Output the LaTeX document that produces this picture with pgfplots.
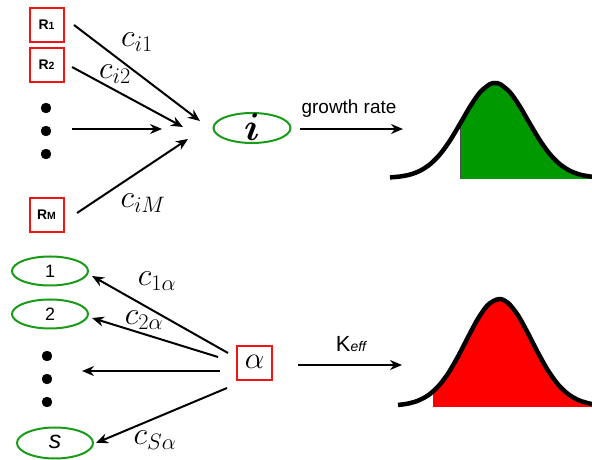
\RequirePackage{fix-cm}
\documentclass[border=0pt]{standalone}
\usepackage{bm}
\usepackage[no-math]{fontspec}
\setmainfont{Liberation Sans}
\usepackage{pgfplots}
\pgfplotsset{compat=1.18}
\usetikzlibrary{arrows.meta,shapes.geometric}
\definecolor{boxred}{RGB}{240,20,20}
\definecolor{ellgreen}{RGB}{25,155,25}
\definecolor{gaussgreen}{RGB}{0,153,0}
\definecolor{gaussred}{RGB}{255,0,0}
\tikzset{
arr/.style={black, line width=2bp, -{Stealth[length=12bp,width=10bp]}},
rbox/.style={draw=boxred, line width=2bp, minimum width=34bp, minimum height=34bp, inner sep=0pt},
gell/.style={draw=ellgreen, line width=2bp, ellipse, inner sep=0pt},
}

\begin{document}
\begin{tikzpicture}
\begin{axis}[
width=592bp, height=460bp, scale only axis,
xmin=0, xmax=592, ymin=0, ymax=460, y dir=reverse,
hide axis, clip=false,
]
% ---- top: resources -> species i
\node[rbox] at (axis cs:46.5,25) {\fontsize{14}{14}\selectfont\bfseries R\fontsize{10.5}{10.5}\selectfont 1};
\node[rbox] at (axis cs:46.5,65) {\fontsize{14}{14}\selectfont\bfseries R\fontsize{10.5}{10.5}\selectfont 2};
\node[rbox] at (axis cs:46.5,215) {\fontsize{14}{14}\selectfont\bfseries R\fontsize{10.5}{10.5}\selectfont M};
\addplot[only marks, mark=*, mark size=5, black] coordinates {(46,108) (46,131) (46,154)};

\addplot[arr] coordinates {(74,25) (200,121)};
\addplot[arr] coordinates {(72,67) (183,127)};
\addplot[arr] coordinates {(72,129) (162,129)};
\addplot[arr] coordinates {(77,213) (188,139)};

\node at (axis cs:137,42) {\fontsize{32}{32}\selectfont $c_{i1}$};
\node at (axis cs:115,74) {\fontsize{32}{32}\selectfont $c_{i2}$};
\node at (axis cs:143,203) {\fontsize{32}{32}\selectfont $c_{iM}$};

\node[gell, minimum width=77bp, minimum height=30bp] at (axis cs:252,128) {};
\node at (axis cs:252,127) {\fontsize{39}{39}\selectfont $\bm{i}$};

\addplot[arr] coordinates {(300,129) (403,129)};
\node at (axis cs:349,109) {\fontsize{19}{19}\selectfont growth rate};

% green distribution (fill from x=460)
\addplot[fill=gaussgreen, draw=none] coordinates {
(460,179) (460,123.9) (470,106.7) (480,92.3) (490,84.1) (495,83) (500,84.1)
(510,92.3) (520,106.7) (530,123.9) (540,140.5) (550,154.3) (560,164.3)
(570,170.8) (580,174.6) (590,176.5) (592,176.7) (592,179) (460,179)};
\addplot[black!70, line width=0.6bp] coordinates {(460,179) (460,124)};
\addplot[black, line width=4.5bp, line join=round, smooth] coordinates {
(390,177.4) (400,176.5) (410,174.6) (420,170.8) (430,164.3) (440,154.3)
(450,140.5) (460,123.9) (470,106.7) (480,92.3) (490,84.1) (495,83) (500,84.1)
(510,92.3) (520,106.7) (530,123.9) (540,140.5) (550,154.3) (560,164.3)
(570,170.8) (580,174.6) (590,176.5) (592,176.7)};

% ---- bottom: consumer alpha -> species
\node[gell, minimum width=76bp, minimum height=29bp] at (axis cs:50,271) {};
\node at (axis cs:50,271) {\fontsize{18}{18}\selectfont 1};
\node[gell, minimum width=76bp, minimum height=29bp] at (axis cs:50,314) {};
\node at (axis cs:50,314) {\fontsize{18}{18}\selectfont 2};
\node[gell, minimum width=76bp, minimum height=31bp] at (axis cs:55,443) {};
\node at (axis cs:55,442) {\fontsize{25}{25}\selectfont\itshape s};
\addplot[only marks, mark=*, mark size=5, black] coordinates {(47,356) (47,379) (47,402)};

\node[rbox, minimum width=35bp, minimum height=34bp] at (axis cs:254.5,363) {};
\node at (axis cs:254.5,362) {\fontsize{31}{31}\selectfont $\alpha$};

\addplot[arr] coordinates {(228,353) (92,276)};
\addplot[arr] coordinates {(218,357) (92,318)};
\addplot[arr] coordinates {(220,371) (82,371)};
\addplot[arr] coordinates {(227,388) (96,443)};

\node at (axis cs:157,281) {\fontsize{32}{32}\selectfont $c_{1\alpha}$};
\node at (axis cs:144,320) {\fontsize{32}{32}\selectfont $c_{2\alpha}$};
\node at (axis cs:155,440) {\fontsize{32}{32}\selectfont $c_{S\alpha}$};

\addplot[arr] coordinates {(298,365) (402,365)};
\node at (axis cs:351,344) {\fontsize{22}{22}\selectfont K\fontsize{14}{14}\selectfont\itshape eff};

% red distribution (fill from x=433)
\addplot[fill=gaussred, draw=none] coordinates {
(433,407) (433,391.5) (438,386.6) (448,373.6) (458,356.5) (468,337.2) (478,318.6)
(488,304.8) (499,299) (508,302.9) (518,315.3) (528,333.3) (538,352.8)
(548,370.5) (558,384.4) (568,394.0) (578,399.9) (588,403.2) (592,404.0)
(592,407) (433,407)};
\addplot[black, line width=4.5bp, line join=round, smooth] coordinates {
(398,405.0) (408,403.6) (418,400.7) (428,395.4) (438,386.6) (448,373.6)
(458,356.5) (468,337.2) (478,318.6) (488,304.8) (499,299) (508,302.9)
(518,315.3) (528,333.3) (538,352.8) (548,370.5) (558,384.4) (568,394.0)
(578,399.9) (588,403.2) (592,404.0)};
\end{axis}
\pgfresetboundingbox
\path (current axis.south west) rectangle (current axis.north east);
\end{tikzpicture}
\end{document}
